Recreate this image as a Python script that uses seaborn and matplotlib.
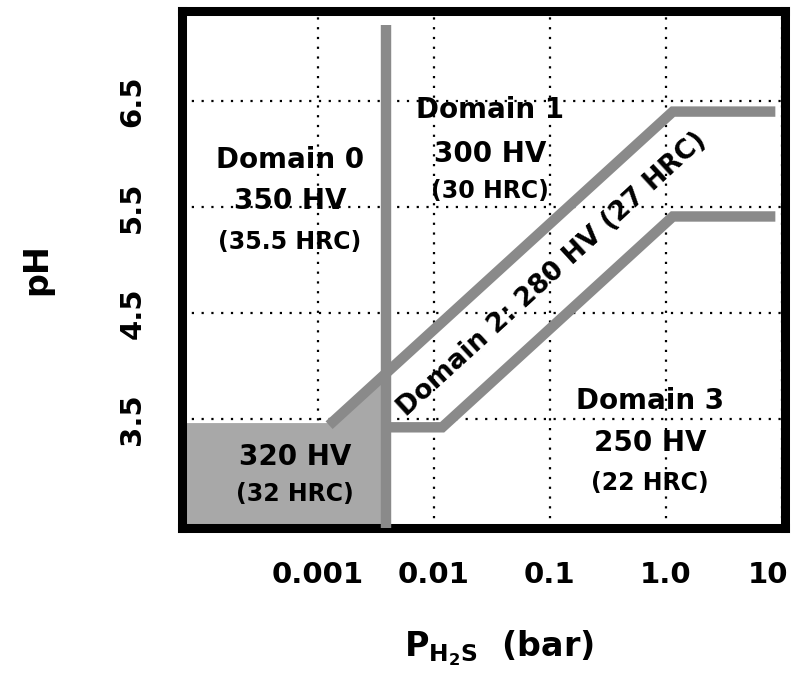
import numpy as np
import pandas as pd
import matplotlib
matplotlib.use("Agg")
import matplotlib.pyplot as plt
import matplotlib.transforms as mtransforms
import seaborn as sns

# H2S partial pressure (bar) / pH breakpoints of the domain boundaries
upper_p = [0.00125, 1.15, 8.8]
upper_ph = [3.44, 6.40, 6.40]
lower_p = [0.0039, 0.0118, 1.15, 8.8]
lower_ph = [3.42, 3.42, 5.41, 5.41]
limit_p = [0.0039, 0.0039]
limit_ph = [2.0, 7.22]

# low-pH / low-pressure zone (320 HV)
zone_p = [1e-5, 1e-5, 0.00125, 0.0039, 0.0039]
zone_ph = [2.0, 3.46, 3.46, 3.93, 2.0]

x_ticks = [0.001, 0.01, 0.1, 1.0, 10.0]
x_ticklabels = ["0.001", "0.01", "0.1", "1.0", "10"]
y_ticks = [3.5, 4.5, 5.5, 6.5]
y_ticklabels = ["3.5", "4.5", "5.5", "6.5"]

domain_texts = {
    "d0": ["Domain 0", "350 HV", "(35.5 HRC)"],
    "d1": ["Domain 1", "300 HV", "(30 HRC)"],
    "d3": ["Domain 3", "250 HV", "(22 HRC)"],
    "z": ["320 HV", "(32 HRC)"],
}
domain2_text = "Domain 2: 280 HV (27 HRC)"

sns.set_style("white")
plt.rcParams["font.family"] = ["DejaVu Sans"]
plt.rcParams["mathtext.fontset"] = "dejavusans"
for key in ["text.color", "axes.labelcolor", "xtick.color", "ytick.color"]:
    plt.rcParams[key] = "black"
plt.rcParams["hatch.color"] = "#6e6e6e"
plt.rcParams["hatch.linewidth"] = 1.0

fig = plt.figure(figsize=(8, 6.83), dpi=100)
ax = fig.add_axes([0.228, 0.227, 0.753, 0.757])
ax.set_xscale("log")
ax.set_xlim(10 ** -4.168, 10 ** 1.026)
ax.set_ylim(2.47, 7.35)

ax.grid(True, which="major", color="black", linestyle=(0, (1, 3.4)), linewidth=1.6)
ax.set_axisbelow(True)

gray = "#8a8a8a"
ax.fill(zone_p, zone_ph, facecolor="#a8a8a8", edgecolor="none", hatch="xxx", zorder=2)

lines = pd.concat([
    pd.DataFrame({"p": upper_p, "ph": upper_ph, "b": "upper"}),
    pd.DataFrame({"p": lower_p, "ph": lower_ph, "b": "lower"}),
    pd.DataFrame({"p": limit_p, "ph": limit_ph, "b": "limit"}),
])
sns.lineplot(data=lines, x="p", y="ph", units="b", estimator=None, sort=False,
             color=gray, linewidth=7.5, ax=ax, zorder=3,
             solid_capstyle="butt", solid_joinstyle="miter")

big, small = 20, 17
def block(xc, ys, texts):
    for y, t in zip(ys, texts):
        size = small if t.startswith("(") else big
        ax.text(xc, y, t, ha="center", va="center", fontsize=size,
                fontweight="bold", color="black", zorder=5)

block(5.74e-4, [5.94, 5.56, 5.17], domain_texts["d0"])
block(0.0304, [6.415, 6.0, 5.65], domain_texts["d1"])
block(0.728, [3.67, 3.27, 2.89], domain_texts["d3"])
block(6.34e-4, [3.14, 2.79], domain_texts["z"])

# rotated label following the Domain 2 band
fig.canvas.draw()
p1 = ax.transData.transform((0.01, 6.40 + np.log10(0.01 / 1.15)))
p2 = ax.transData.transform((0.1, 6.40 + np.log10(0.1 / 1.15)))
angle = np.degrees(np.arctan2(p2[1] - p1[1], p2[0] - p1[0]))
xm = 0.105
ax.text(xm, 5.905 + np.log10(xm / 1.15), domain2_text, rotation=angle,
        rotation_mode="anchor", ha="center", va="center", fontsize=19,
        fontweight="bold", color="black", zorder=5)

ax.set_xticks(x_ticks)
ax.set_xticklabels(x_ticklabels)
ax.xaxis.set_minor_locator(matplotlib.ticker.NullLocator())
ax.set_yticks(y_ticks)
ax.set_yticklabels(y_ticklabels)
ax.tick_params(axis="both", length=0, labelsize=21)
ax.tick_params(axis="x", pad=24)
ax.tick_params(axis="y", pad=26)
for lab in ax.get_xticklabels() + ax.get_yticklabels():
    lab.set_fontweight("bold")
for lab in ax.get_yticklabels():
    lab.set_rotation(90)
    lab.set_va("center")
# keep the last x label inside the canvas
last = ax.get_xticklabels()[-1]
last.set_transform(last.get_transform() +
                   mtransforms.ScaledTranslation(-10 / 72, 0, fig.dpi_scale_trans))

for s in ax.spines.values():
    s.set_visible(True)
    s.set_color("black")
    s.set_linewidth(6.5)

ax.set_xlabel(r"$\mathbf{P}_{\mathbf{H_2S}}$  (bar)", fontsize=24, fontweight="bold")
ax.xaxis.set_label_coords(0.526, -0.195)
ax.set_ylabel("pH", fontsize=24, fontweight="bold")
ax.yaxis.set_label_coords(-0.215, 0.5)

fig.savefig("out.png", dpi=100, facecolor="white")
